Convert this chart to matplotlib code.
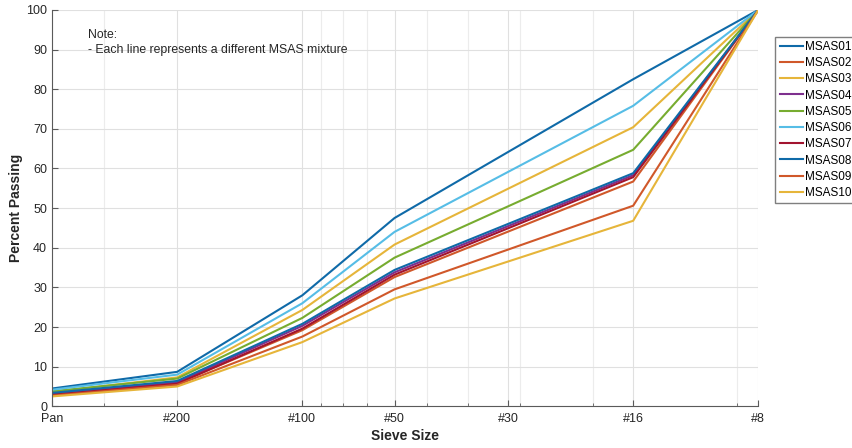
import matplotlib
matplotlib.use("Agg")
from matplotlib import pyplot as plt
from matplotlib.ticker import FixedLocator, LogLocator, NullFormatter

plt.rcParams['font.family'] = ['Liberation Sans', 'DejaVu Sans']

# sieve positions on a reversed log axis (Pan, #200, #100, #50, #16, #8)
sieve_x = [400, 200, 100, 60, 16, 8]
tick_x = [400, 200, 100, 60, 32, 16, 8]
tick_labels = ['Pan', '#200', '#100', '#50', '#30', '#16', '#8']

mixtures = ['MSAS01', 'MSAS02', 'MSAS03', 'MSAS04', 'MSAS05',
            'MSAS06', 'MSAS07', 'MSAS08', 'MSAS09', 'MSAS10']

msas01 = [4.5, 8.7, 28.0, 47.5, 82.5, 100]
msas02 = [3.0, 5.8, 19.2, 32.6, 56.7, 100]
msas03 = [3.6, 7.3, 24.3, 40.8, 70.4, 100]
msas04 = [3.2, 6.1, 20.3, 33.8, 58.3, 100]
msas05 = [3.8, 7.0, 22.3, 37.5, 64.7, 100]
msas06 = [4.2, 8.0, 26.0, 44.0, 75.8, 100]
msas07 = [2.9, 5.7, 19.6, 33.2, 57.8, 100]
msas08 = [3.4, 6.4, 20.8, 34.4, 58.8, 100]
msas09 = [2.7, 5.4, 17.6, 29.5, 50.6, 100]
msas10 = [2.5, 5.0, 16.2, 27.2, 46.8, 100]

series = [msas01, msas02, msas03, msas04, msas05,
          msas06, msas07, msas08, msas09, msas10]

# matlab default line colours, cycling after seven
colors = ['#0f6aa8', '#d0582a', '#e6b53a', '#7E2F8E', '#77AC30',
          '#56bde6', '#A2142F', '#0f6aa8', '#d0582a', '#e6b53a']

fig = plt.figure(figsize=(8.53, 4.48), dpi=100)
ax = fig.add_axes([0.061, 0.093, 0.828, 0.885])

for name, vals, c in zip(mixtures, series, colors):
    ax.plot(sieve_x, vals, color=c, linewidth=1.5, label=name)

ax.set_xscale('log')
ax.set_xlim(400, 8)
ax.set_ylim(0, 100)
ax.xaxis.set_major_locator(FixedLocator(tick_x))
ax.set_xticklabels(tick_labels)
ax.xaxis.set_minor_locator(LogLocator(base=10, subs=range(2, 10)))
ax.xaxis.set_minor_formatter(NullFormatter())
ax.set_yticks(range(0, 101, 10))

ax.grid(True, which='major', color='#e0e0e0', linewidth=0.8)
ax.grid(True, which='minor', axis='x', color='#ececec', linewidth=0.8)
ax.set_axisbelow(True)

for s in ['top', 'right']:
    ax.spines[s].set_visible(False)
for s in ['left', 'bottom']:
    ax.spines[s].set_color('#5a5a5a')
    ax.spines[s].set_linewidth(0.8)

ax.tick_params(which='both', direction='in', colors='#5a5a5a', labelcolor='#262626', labelsize=9)
ax.tick_params(which='major', length=4)
ax.tick_params(which='minor', length=2)
ax.tick_params(axis='x', pad=5)

ax.set_xlabel('Sieve Size', fontsize=10, fontweight='bold', color='#262626', labelpad=3)
ax.set_ylabel('Percent Passing', fontsize=10, fontweight='bold', color='#262626', labelpad=2)

ax.text(0.051, 0.952, 'Note:\n- Each line represents a different MSAS mixture',
        transform=ax.transAxes, fontsize=8.8, color='#262626', va='top', linespacing=1.3)

fig.legend(loc='upper left', bbox_to_anchor=(0.909, 0.918), fontsize=8.5,
           frameon=True, fancybox=False, edgecolor='#7f7f7f', framealpha=1,
           handlelength=2.0, handletextpad=0.15, labelspacing=0.36, borderpad=0.35,
           borderaxespad=0)

plt.savefig('out.png', dpi=100)
